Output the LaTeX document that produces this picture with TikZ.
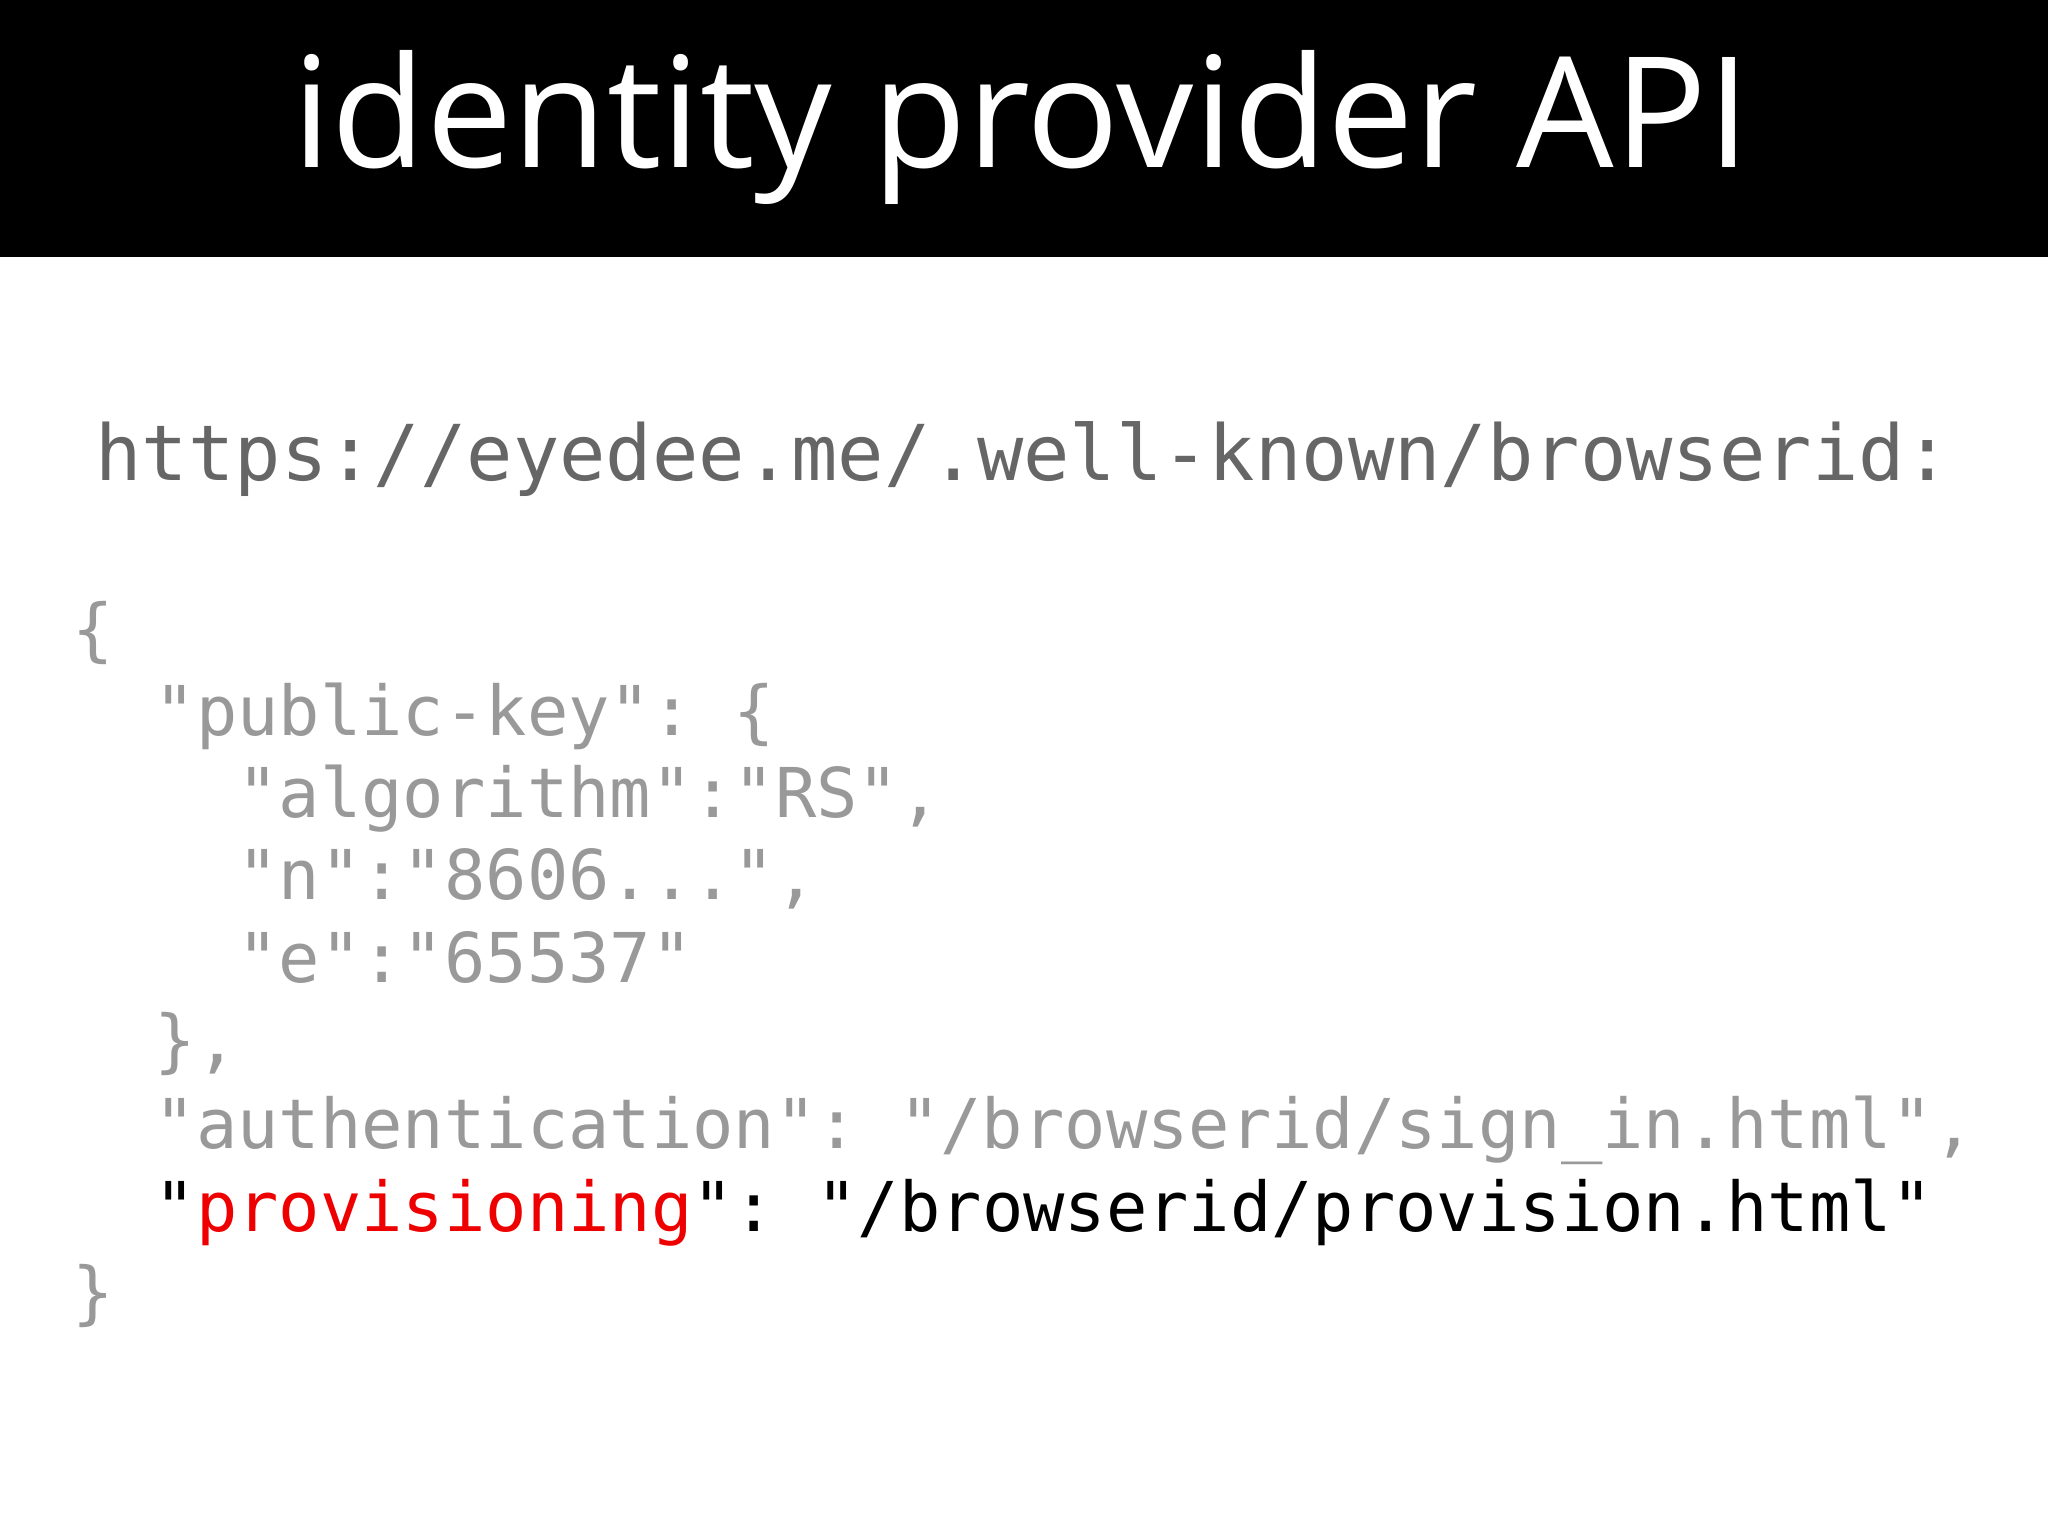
\documentclass[tikz,border=0pt]{standalone}
\usepackage{fontspec}
\setmainfont{Open Sans}
\setmonofont{DejaVu Sans Mono}
\definecolor{urlgray}{HTML}{666666}
\definecolor{codegray}{HTML}{999999}
\definecolor{hired}{HTML}{EE0000}
\begin{document}
\begin{tikzpicture}[x=1pt,y=-1pt,
  code/.style={anchor=base west,inner sep=0pt,font=\fontsize{52.6}{52.6}\ttfamily,text=codegray}]
\useasboundingbox (0,0) rectangle (1568,1175);
\fill[white] (0,0) rectangle (1568,1175);
\fill[black] (0,0) rectangle (1568,197);
\node[anchor=base,inner sep=0pt,text=white,font=\fontsize{118}{118}\selectfont] (title) at (782,128) {identity provider API};
\node[anchor=base west,inner sep=0pt,text=urlgray,font=\fontsize{59}{59}\ttfamily] (url) at (73,368) {https://eyedee.me/.well-known/browserid:};
\node[code] (l1) at (55,500) {\{};
\node[code] (l2) at (55,563) {\ \ "public-key": \{};
\node[code] (l3) at (55,626) {\ \ \ \ "algorithm":"RS",};
\node[code] (l4) at (55,689) {\ \ \ \ "n":"8606...",};
\node[code] (l5) at (55,752) {\ \ \ \ "e":"65537"};
\node[code] (l6) at (55,815) {\ \ \},};
\node[code] (l7) at (55,879) {\ \ "authentication": "/browserid/sign\_in.html",};
\node[code,text=black] (l8) at (55,943) {\ \ "\textcolor{hired}{provisioning}": "/browserid/provision.html"};
\node[code] (l9) at (55,1008) {\}};
\end{tikzpicture}
\end{document}
